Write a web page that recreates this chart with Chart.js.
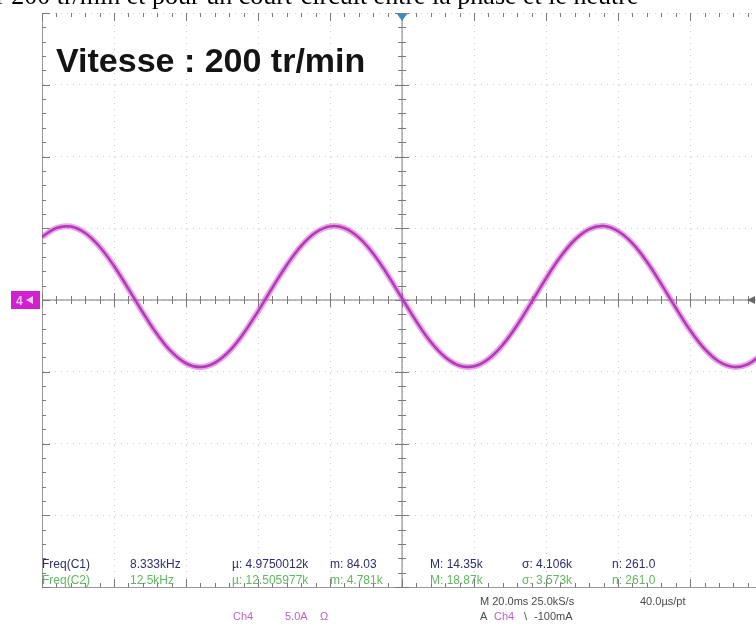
<!DOCTYPE html>
<html>
<head>
<meta charset="utf-8">
<script src="https://cdn.jsdelivr.net/npm/chart.js@4.4.1/dist/chart.umd.min.js"></script>
<style>
  html, body { margin: 0; padding: 0; background: #fff; }
  #wrap { width: 756px; height: 629px; overflow: hidden; }
</style>
</head>
<body>
<div id="wrap"><canvas id="scope" width="756" height="629"></canvas></div>
<script>
const temps = [-100, -96, -92, -88, -84, -80, -76, -72, -68, -64, -60, -56, -52, -48, -44, -40, -36, -32, -28, -24,
  -20, -16, -12, -8, -4, 0, 4, 8, 12, 16, 20, 24, 28, 32, 36, 40, 44, 48, 52, 56,
  60, 64, 68, 72, 76, 80, 84, 88, 92, 96, 100];
const courant = [4.39, 5.02, 5.12, 4.67, 3.71, 2.37, 0.78, -0.87, -2.39, -3.62, -4.41, -4.67, -4.38, -3.57, -2.32, -0.79, 0.86, 2.44, 3.77, 4.70,
  5.13, 5.01, 4.35, 3.23, 1.75, 0.12, -1.50, -2.93, -3.99, -4.58, -4.62, -4.11, -3.11, -1.74, -0.13, 1.51, 3.01, 4.20, 4.94, 5.15,
  4.79, 3.94, 2.66, 1.11, -0.54, -2.11, -3.40, -4.29, -4.66, -4.48, -3.77];

// textes affichés
const titre = 'Vitesse : 200 tr/min';
const legendeDoc = 'r 200 tr/min et pour un court-circuit entre la phase et le neutre';
const mesuresC1 = ['Freq(C1)', '8.333kHz', 'µ: 4.9750012k', 'm: 84.03', 'M: 14.35k', 'σ: 4.106k', 'n: 261.0'];
const mesuresC2 = ['Freq(C2)', '12.5kHz', 'µ: 12.505977k', 'm: 4.781k', 'M: 18.87k', 'σ: 3.573k', 'n: 261.0'];
const base = ['M 20.0ms 25.0kS/s', '40.0µs/pt'];
const voie = ['Ch4', '5.0A', 'Ω'];
const declenchement = ['A', 'Ch4', '\\', '-100mA'];

const points = temps.map((t, i) => ({ x: t, y: courant[i] }));

// axes centraux, graduations et annotations de l'écran
const ecran = {
  id: 'ecran',
  beforeDatasetsDraw(chart) {
    const { ctx, chartArea: a, scales: { x, y } } = chart;
    const x0 = x.getPixelForValue(0), y0 = y.getPixelForValue(0);
    ctx.save();
    ctx.strokeStyle = '#7a7a7a';
    ctx.lineWidth = 1;
    ctx.beginPath();
    ctx.moveTo(a.left, y0); ctx.lineTo(a.right, y0);
    ctx.moveTo(x0, a.top); ctx.lineTo(x0, a.bottom);
    ctx.stroke();
    // graduations sur l'axe horizontal central et les bords haut/bas
    for (let t = -100; t <= 100; t += 4) {
      const px = Math.round(x.getPixelForValue(t)) + 0.5;
      const major = t % 20 === 0;
      const h = major ? 7 : 4;
      ctx.beginPath();
      ctx.moveTo(px, y0 - h); ctx.lineTo(px, y0 + h);
      ctx.moveTo(px, a.top); ctx.lineTo(px, a.top + (major ? 8 : 4));
      ctx.moveTo(px, a.bottom); ctx.lineTo(px, a.bottom - (major ? 8 : 4));
      ctx.stroke();
    }
    // graduations sur l'axe vertical central et le bord gauche
    for (let v = -20; v <= 20; v += 1) {
      const py = Math.round(y.getPixelForValue(v)) + 0.5;
      const major = v % 5 === 0;
      const w = major ? 7 : 4;
      ctx.beginPath();
      ctx.moveTo(x0 - w, py); ctx.lineTo(x0 + w, py);
      ctx.moveTo(a.left, py); ctx.lineTo(a.left + (major ? 8 : 4), py);
      ctx.stroke();
    }
    ctx.restore();
  },
  afterDraw(chart) {
    const { ctx, chartArea: a, scales: { x, y } } = chart;
    const x0 = x.getPixelForValue(0), y0 = y.getPixelForValue(0);
    ctx.save();
    // texte du document, coupé en haut
    ctx.fillStyle = '#000';
    ctx.font = '26px "Liberation Serif"';
    ctx.textBaseline = 'alphabetic';
    ctx.fillText(legendeDoc, -4, 4);

    ctx.fillStyle = '#141414';
    ctx.font = 'bold 34px "Liberation Sans"';
    ctx.fillText(titre, 56, 72);

    // repère de voie à gauche
    ctx.fillStyle = '#d020d0';
    ctx.fillRect(11, y0 - 9, 29, 18);
    ctx.fillStyle = '#f4c8f4';
    ctx.font = 'bold 12px "Liberation Sans"';
    ctx.fillText('4', 16, y0 + 5);
    ctx.beginPath();
    ctx.moveTo(26, y0); ctx.lineTo(33, y0 - 4); ctx.lineTo(33, y0 + 4); ctx.closePath();
    ctx.fill();
    // repère à droite
    ctx.fillStyle = '#6a6a6a';
    ctx.beginPath();
    ctx.moveTo(747, y0); ctx.lineTo(755, y0 - 4); ctx.lineTo(755, y0 + 4); ctx.closePath();
    ctx.fill();
    // position du déclenchement
    ctx.fillStyle = '#3a8fb8';
    ctx.beginPath();
    ctx.moveTo(x0 - 5, a.top + 1); ctx.lineTo(x0 + 5, a.top + 1); ctx.lineTo(x0, a.top + 8); ctx.closePath();
    ctx.fill();

    // mesures
    const colonnes = [42, 130, 232, 330, 430, 522, 612];
    ctx.font = '12px "Liberation Sans"';
    ctx.fillStyle = '#2e2e6c';
    mesuresC1.forEach((s, i) => ctx.fillText(s, colonnes[i], 568));
    ctx.fillStyle = '#62b862';
    mesuresC2.forEach((s, i) => ctx.fillText(s, colonnes[i], 584));

    ctx.font = '11px "Liberation Sans"';
    ctx.fillStyle = '#4a4a4a';
    ctx.fillText(base[0], 480, 605);
    ctx.fillText(base[1], 640, 605);

    ctx.fillStyle = '#c060c0';
    ctx.fillText(voie[0], 233, 620);
    ctx.fillText(voie[1], 285, 620);
    ctx.fillText(voie[2], 320, 620);

    ctx.fillStyle = '#4a4a4a';
    ctx.fillText(declenchement[0], 480, 620);
    ctx.fillStyle = '#c060c0';
    ctx.fillText(declenchement[1], 494, 620);
    ctx.fillStyle = '#4a4a4a';
    ctx.fillText(declenchement[2], 524, 620);
    ctx.fillText(declenchement[3], 534, 620);
    ctx.restore();
  }
};

new Chart(document.getElementById('scope'), {
  type: 'line',
  data: {
    datasets: [
      {
        data: points,
        borderColor: 'rgba(222, 70, 222, 0.5)',
        borderWidth: 6,
        pointRadius: 0,
        tension: 0.4
      },
      {
        data: points,
        borderColor: '#7e3288',
        borderWidth: 2.5,
        pointRadius: 0,
        tension: 0.4
      }
    ]
  },
  options: {
    responsive: false,
    animation: false,
    events: [],
    layout: { padding: { left: 42, top: 13, right: 0, bottom: 42 } },
    plugins: {
      legend: { display: false },
      tooltip: { enabled: false }
    },
    scales: {
      x: {
        type: 'linear',
        min: -100,
        max: 98.3,
        ticks: { display: false, stepSize: 20 },
        grid: { color: 'rgba(150, 150, 150, 0.5)', drawTicks: false },
        border: { display: true, color: '#9a9a9a', dash: [1, 5] }
      },
      y: {
        type: 'linear',
        min: -20,
        max: 20,
        ticks: { display: false, stepSize: 5 },
        grid: { color: 'rgba(150, 150, 150, 0.5)', drawTicks: false },
        border: { display: true, color: '#9a9a9a', dash: [1, 5] }
      }
    }
  },
  plugins: [ecran]
});
</script>
</body>
</html>
